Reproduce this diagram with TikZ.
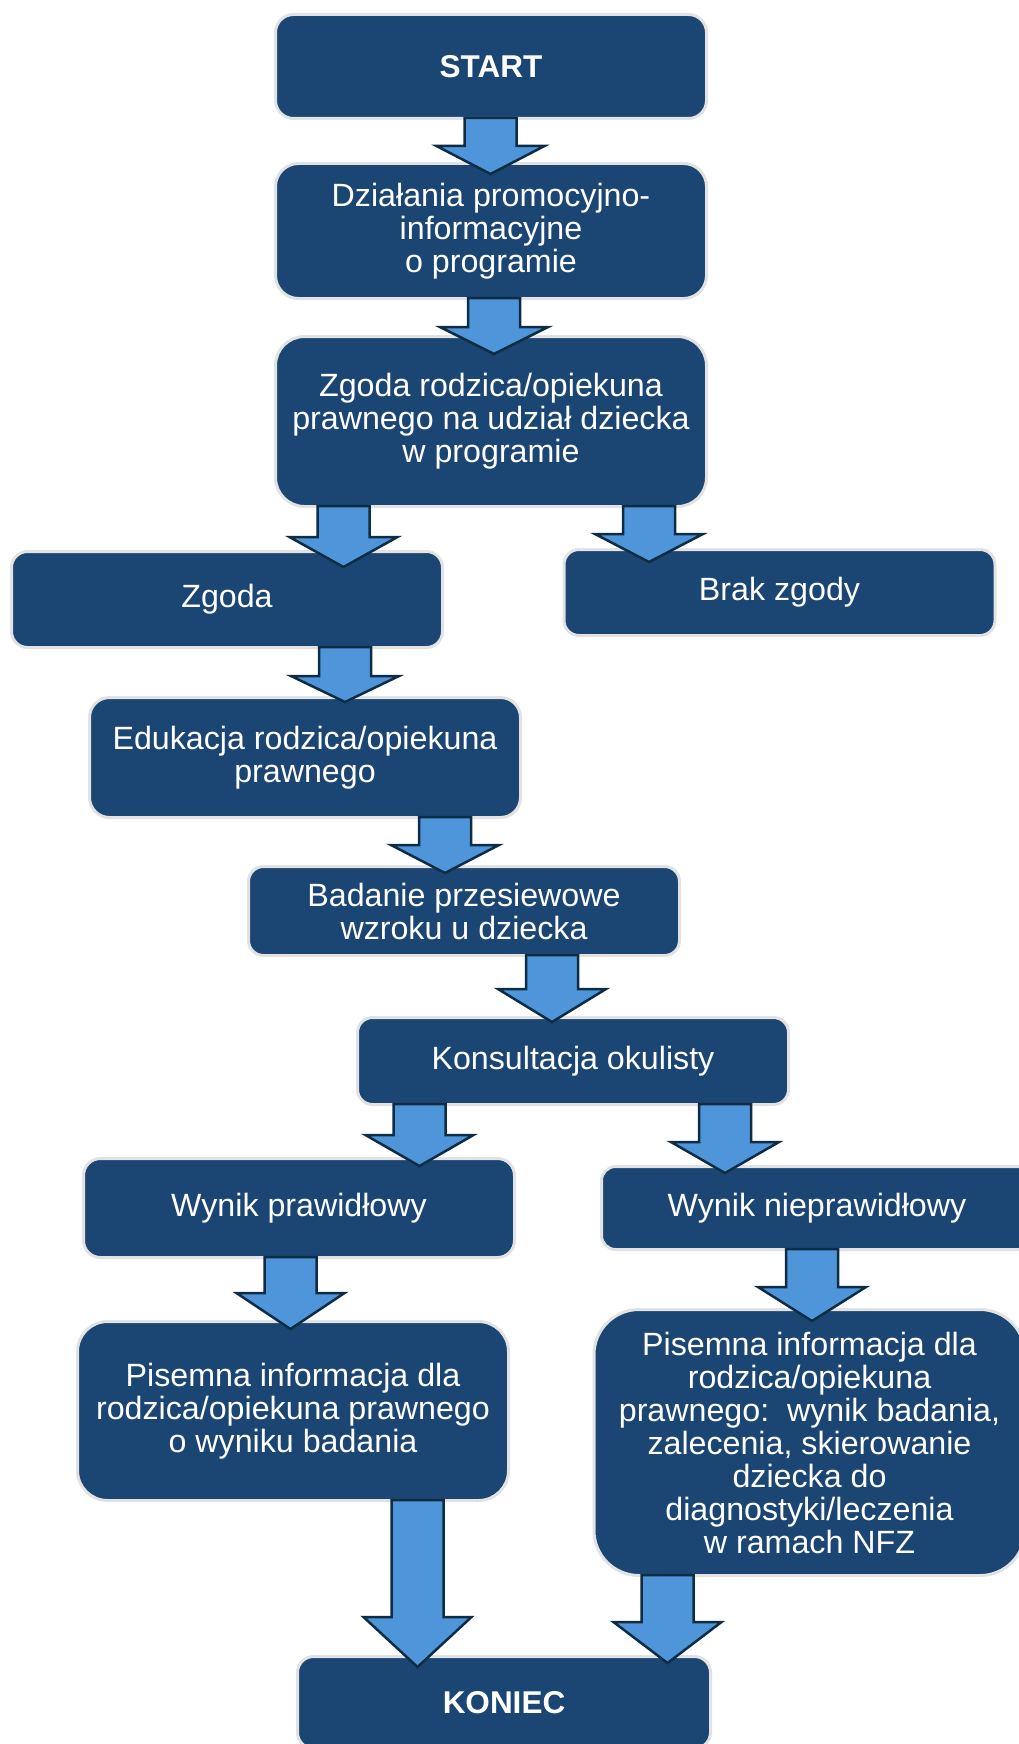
\documentclass[tikz,border=0pt]{standalone}
\usepackage{fontspec}
\setmainfont{Liberation Sans}
\usetikzlibrary{positioning}

\definecolor{boxblue}{RGB}{27,70,115}
\definecolor{boxrim}{RGB}{226,226,226}
\definecolor{arrowblue}{RGB}{79,149,217}
\definecolor{arrowrim}{RGB}{14,45,68}

\tikzset{
  stepbox/.style={draw=boxrim,line width=3pt,fill=boxblue,text=white,
    align=center,inner sep=0pt,minimum width=431pt,
    font=\fontsize{32.2}{33}\selectfont},
  endbox/.style={stepbox,font=\fontsize{31.5}{33}\selectfont\bfseries},
  blockarrow/.style={draw=arrowrim,line width=2.5pt,fill=arrowblue,line join=miter}
}

% #1 x of the arrow, #2 from, #3 to, #4 how far the tip runs into #3, #5 head length
\newcommand{\flowarrow}[5]{%
  \coordinate (fa-top) at (#1,0 |- #2.south);
  \coordinate (fa-tip) at (#1,0 |- #3.north);
  \draw[blockarrow]
    ([xshift=-26pt,yshift=2pt]fa-top) -- ([xshift=-26pt,yshift={(#5-#4)*1pt}]fa-tip)
    -- ([xshift=-54pt,yshift={(#5-#4)*1pt}]fa-tip) -- ([yshift={-#4*1pt}]fa-tip)
    -- ([xshift=54pt,yshift={(#5-#4)*1pt}]fa-tip) -- ([xshift=26pt,yshift={(#5-#4)*1pt}]fa-tip)
    -- ([xshift=26pt,yshift=2pt]fa-top) -- cycle;
}

\begin{document}
\begin{tikzpicture}[x=1pt,y=-1pt]
  \useasboundingbox (0,0) rectangle (1019,1744);
  \clip (0,0) rectangle (1019,1744);

  \node[endbox,minimum height=104pt,rounded corners=18pt] (start) at (491,66.5) {START};
  \node[stepbox,minimum height=135pt,rounded corners=23pt] (promo) at (491,231)
       {Działania promocyjno-\\informacyjne\\o programie};
  \node[stepbox,minimum height=170pt,rounded corners=29pt] (consent) at (491,421.5)
       {Zgoda rodzica/opiekuna\\prawnego na udział dziecka\\w programie};
  \node[stepbox,minimum height=96pt,rounded corners=16pt] (yes) at (227,599.5) {Zgoda};
  \node[stepbox,minimum height=86pt,rounded corners=15pt] (no) at (779.5,592.5) {Brak zgody};
  \node[stepbox,minimum height=120pt,rounded corners=20pt] (edu) at (305,757.5)
       {Edukacja rodzica/opiekuna\\prawnego};
  \node[stepbox,minimum height=89pt,rounded corners=15pt] (screen) at (464,911)
       {Badanie przesiewowe\\wzroku u dziecka};
  \node[stepbox,minimum height=87pt,rounded corners=15pt] (consult) at (573,1061)
       {Konsultacja okulisty};
  \node[stepbox,minimum height=99pt,rounded corners=17pt] (ok) at (299,1208)
       {Wynik prawidłowy};
  \node[stepbox,minimum height=83pt,rounded corners=14pt] (bad) at (817,1208)
       {Wynik nieprawidłowy};
  \node[stepbox,minimum height=179pt,rounded corners=30pt] (infook) at (293,1411)
       {Pisemna informacja dla\\rodzica/opiekuna prawnego\\o wyniku badania};
  \node[stepbox,minimum height=266pt,rounded corners=45pt] (infobad) at (809.5,1442.5)
       {Pisemna informacja dla\\rodzica/opiekuna\\prawnego:\ \ wynik badania,\\zalecenia, skierowanie\\dziecka do\\diagnostyki/leczenia\\w ramach NFZ};
  \node[endbox,minimum width=413pt,minimum height=92pt,rounded corners=16pt] (stop) at (504,1702.5) {KONIEC};

  \flowarrow{490.5}{start}{promo}{12}{28}
  \flowarrow{494}{promo}{consent}{19}{27}
  \flowarrow{343.5}{consent}{yes}{17}{30}
  \flowarrow{649}{consent}{no}{14}{28}
  \flowarrow{345}{yes}{edu}{6}{26}
  \flowarrow{445}{edu}{screen}{8}{28}
  \flowarrow{552}{screen}{consult}{6}{33}
  \flowarrow{419.5}{consult}{ok}{9}{31}
  \flowarrow{725}{consult}{bad}{8}{31}
  \flowarrow{290.5}{ok}{infook}{9}{36}
  \flowarrow{812}{bad}{infobad}{13}{34}
  \flowarrow{417.5}{infook}{stop}{12}{50}
  \flowarrow{667.5}{infobad}{stop}{8}{41}
\end{tikzpicture}
\end{document}
